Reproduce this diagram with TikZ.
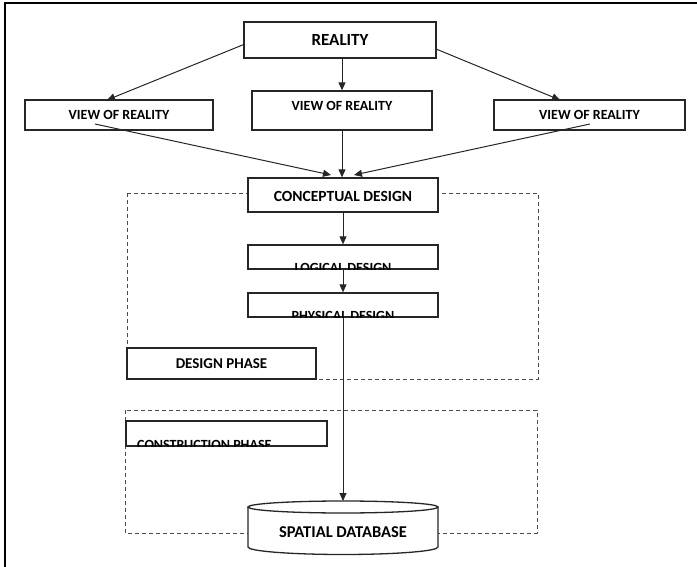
\documentclass[tikz,border=0pt]{standalone}
\usepackage{fontspec}
\setmainfont{Carlito}
\usetikzlibrary{arrows.meta}
\begin{document}
\begin{tikzpicture}[x=1pt,y=-1pt,
  boxed/.style={draw=black!85, line width=1.3pt, fill=white, inner sep=0pt},
  lbl/.style={font=\bfseries\fontsize{14}{16}\selectfont, inner sep=0pt, text=black},
  conn/.style={draw=black!85, line width=1pt, -{Triangle[length=8pt,width=7pt]}},
  phase/.style={draw=black!70, line width=0.9pt, dash pattern=on 4pt off 3pt}]
\useasboundingbox (0,0) rectangle (697,567);
% outer frame
\draw[line width=1.6pt] (5,567) -- (5,3) -- (697,3);
% phase frames
\draw[phase] (127,193) rectangle (538,379);
\draw[phase] (125,410) rectangle (537,533);
% boxes
\node[boxed, minimum width=192pt, minimum height=36pt] (reality) at (340,40) {};
\node[lbl, font=\bfseries\fontsize{17}{19}\selectfont] (realitytxt) at (340,40) {REALITY};
\node[boxed, minimum width=188pt, minimum height=30pt] (viewL) at (119,115) {};
\node[lbl] (viewLtxt) at (119,115) {VIEW OF REALITY};
\node[boxed, minimum width=180pt, minimum height=39pt] (viewC) at (342,110.5) {};
\node[lbl] (viewCtxt) at (342,106) {VIEW OF REALITY};
\node[boxed, minimum width=191pt, minimum height=30pt] (viewR) at (589.5,115) {};
\node[lbl] (viewRtxt) at (589.5,115) {VIEW OF REALITY};
\node[boxed, minimum width=190pt, minimum height=34pt] (concept) at (343,195) {};
\node[lbl, font=\bfseries\fontsize{15.5}{18}\selectfont] (concepttxt) at (343,196) {CONCEPTUAL DESIGN};
\node[boxed, minimum width=190pt, minimum height=24pt] (logical) at (343,257) {};
\begin{scope}
\clip (logical.south west) rectangle (logical.north east);
\node[lbl, anchor=base] (logicaltxt) at (343,272.5) {LOGICAL DESIGN};
\end{scope}
\node[boxed, minimum width=190pt, minimum height=24pt] (physical) at (343,305) {};
\begin{scope}
\clip (physical.south west) rectangle (physical.north east);
\node[lbl, anchor=base] (physicaltxt) at (343,320.5) {PHYSICAL DESIGN};
\end{scope}
\node[boxed, minimum width=189pt, minimum height=31pt] (design) at (221.5,363.5) {};
\node[lbl, font=\bfseries\fontsize{15}{18}\selectfont] (designtxt) at (221.5,364) {DESIGN PHASE};
\node[boxed, minimum width=201pt, minimum height=25pt] (constr) at (226.5,433.5) {};
\begin{scope}
\clip (constr.south west) rectangle (constr.north east);
\node[lbl, anchor=base west] (constrtxt) at (137,449.5) {CONSTRUCTION PHASE};
\end{scope}
% cylinder
\filldraw[boxed] (248,507) -- (248,547) arc[start angle=180, end angle=0, x radius=95, y radius=7.5] -- (438,507);
\filldraw[boxed] (343,507) ellipse [x radius=95, y radius=6];
\coordinate (dbtop) at (343,501);
\node[lbl, font=\bfseries\fontsize{16.5}{19}\selectfont] (db) at (343,532) {SPATIAL DATABASE};
% connectors
\coordinate (rL) at (245,44);
\coordinate (rR) at (436,49);
\coordinate (vLin) at (107,100);
\coordinate (vRin) at (560,100);
\coordinate (vLout) at (95,124);
\coordinate (vRout) at (590,124);
\coordinate (cL) at (331,175);
\coordinate (cR) at (354,175);
\draw[conn] (rL) -- (vLin);
\draw[conn] (rR) -- (vRin);
\draw[conn] (reality.south -| viewC.north) -- (viewC.north);
\draw[conn] (vLout) -- (cL);
\draw[conn] (vRout) -- (cR);
\draw[conn] (viewC.south) -- (concept.north -| viewC.south);
\draw[conn] (concept.south) -- (logical.north);
\draw[conn] (logical.south) -- (physical.north);
\draw[conn] (physical.south) -- (dbtop);
\end{tikzpicture}
\end{document}
